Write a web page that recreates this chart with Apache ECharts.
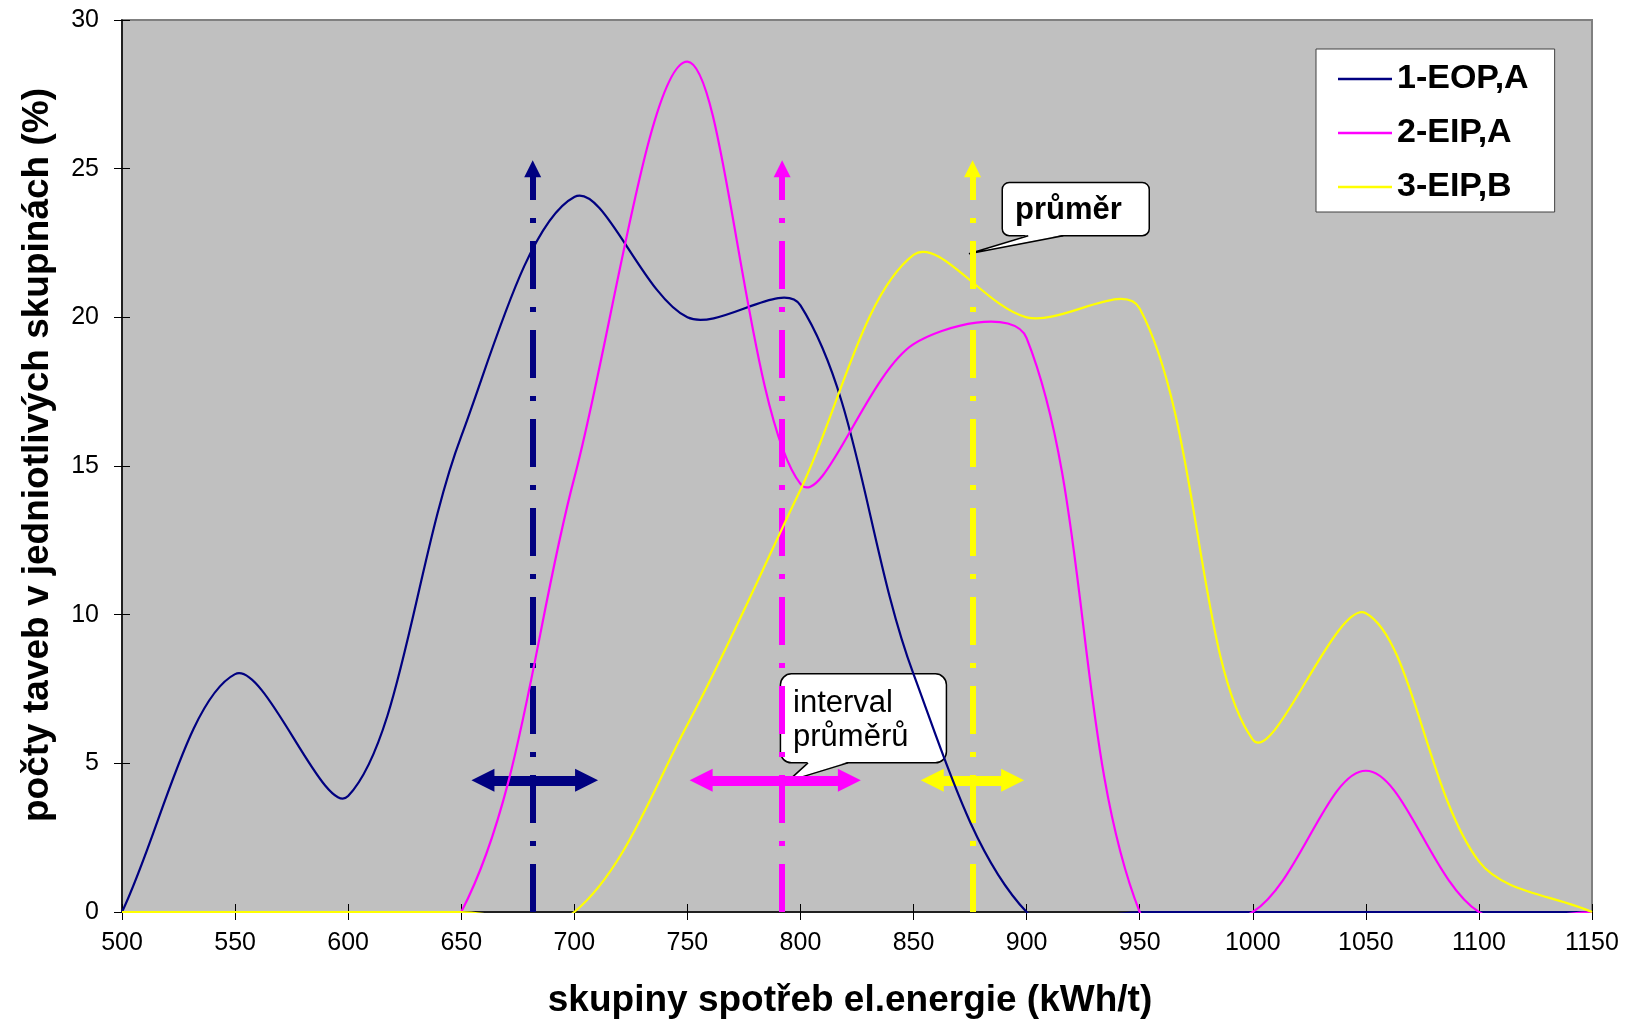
<!DOCTYPE html>
<html>
<head>
<meta charset="utf-8">
<title>skupiny spotřeb el.energie</title>
<script src="https://cdn.jsdelivr.net/npm/echarts@6/dist/echarts.min.js"></script>
<style>
  html, body { margin: 0; padding: 0; background: #fff; }
  #chart { width: 1626px; height: 1024px; }
</style>
</head>
<body>
<div id="chart"></div>
<script>
// skupiny spotřeb el.energie (kWh/t)
var groups = [500, 550, 600, 650, 700, 750, 800, 850, 900, 950, 1000, 1050, 1100, 1150]
// počty taveb (%)
var eopA = [0, 8.0, 3.9, 16.0, 24.05, 20.0, 20.4, 8.0, 0, 0, 0, 0, 0, 0]
var eipA = [0, 0, 0, 0, 14.6, 28.6, 14.4, 19.1, 19.3, 0, 0, 4.75, 0, 0]
var eipB = [0, 0, 0, 0, 0, 6.3, 14.2, 22.1, 20.0, 20.3, 5.8, 10.05, 1.7, 0]
var seriesNames = ['1-EOP,A', '2-EIP,A', '3-EIP,B']
var colors = ['#000080', '#FF00FF', '#FFFF00']

// průměr (svislé šipky) a interval průměrů (vodorovné šipky)
var means = [681.6, 791.9, 876.1]
var meanTop = 25
var intervalLow = [654.5, 751, 853.2]
var intervalHigh = [710.5, 826.7, 898.9]
var intervalLevel = 4.43

// kam ukazují popisky
var prumerTip = [874.5, 22.14]
var intervalTip = [794.5, 4.40]

var font = '"Liberation Sans", Arial, Helvetica, sans-serif'
var chart = echarts.init(document.getElementById('chart'))

// vyhlazená čára jako v Excelu (bez omezení překmitu)
var SMOOTH = 1 / 3
function ctrl(prev, p, next, after) {
  var vx = next[0] - prev[0], vy = next[1] - prev[1]
  var l0 = Math.hypot(p[0] - prev[0], p[1] - prev[1])
  var l1 = Math.hypot(next[0] - p[0], next[1] - p[1])
  if (l0 + l1 === 0) return p
  var r = l1 / (l0 + l1)
  if (after) return [p[0] + vx * SMOOTH * r, p[1] + vy * SMOOTH * r]
  return [p[0] - vx * SMOOTH * (1 - r), p[1] - vy * SMOOTH * (1 - r)]
}
function smoothPath(pts) {
  var d = 'M' + pts[0][0] + ' ' + pts[0][1]
  for (var i = 0; i < pts.length - 1; i++) {
    var p0 = pts[i - 1] || pts[i], p1 = pts[i], p2 = pts[i + 1], p3 = pts[i + 2] || pts[i + 1]
    var c1 = ctrl(p0, p1, p2, true)
    var c2 = ctrl(p1, p2, p3, false)
    d += ' C' + c1[0] + ' ' + c1[1] + ' ' + c2[0] + ' ' + c2[1] + ' ' + p2[0] + ' ' + p2[1]
  }
  return d
}

var series = []
// šipky průměrů a intervalů pod křivkami
var headUnits = 11.5 * 650 / 1470
colors.forEach(function (c, i) {
  series.push({
    type: 'line', data: [], z: 1, silent: true,
    markLine: {
      silent: true, z: 1, animation: false,
      symbol: ['none', 'triangle'], symbolSize: [17, 17],
      label: { show: false },
      lineStyle: { color: c, width: 6, type: [48, 18, 5, 18], opacity: 1 },
      emphasis: { disabled: true },
      data: [[{ coord: [means[i], 0] }, { coord: [means[i], meanTop] }]]
    }
  })
  series.push({
    type: 'line', data: [], z: 1, silent: true,
    markLine: {
      silent: true, z: 1, animation: false,
      symbol: ['triangle', 'triangle'], symbolSize: [23, 23],
      label: { show: false },
      lineStyle: { color: c, width: 10, type: 'solid', opacity: 1 },
      emphasis: { disabled: true },
      data: [[{ coord: [intervalLow[i] + headUnits, intervalLevel] },
              { coord: [intervalHigh[i] - headUnits, intervalLevel] }]]
    }
  })
})

;[eopA, eipA, eipB].forEach(function (vals, i) {
  var color = colors[i]
  series.push({
    name: seriesNames[i],
    type: 'custom',
    z: 3,
    silent: true,
    itemStyle: { color: color },
    encode: { x: 0, y: 1 },
    data: groups.map(function (g, j) { return [g, vals[j]] }),
    renderItem: function (params, api) {
      if (params.dataIndex !== 0) return
      var pts = groups.map(function (g, j) { return api.coord([g, vals[j]]) })
      var cs = params.coordSys
      return {
        type: 'path',
        shape: { pathData: smoothPath(pts) },
        style: { fill: 'none', stroke: color, lineWidth: 2.2 },
        clipPath: { type: 'rect', shape: { x: cs.x - 2, y: cs.y - 2, width: cs.width + 4, height: cs.height + 3 } }
      }
    }
  })
})

var option = {
  animation: false,
  backgroundColor: '#fff',
  textStyle: { fontFamily: font },
  grid: {
    left: 122, right: 34, top: 20, bottom: 112,
    show: true, backgroundColor: '#C0C0C0', borderColor: '#808080', borderWidth: 2,
    outerBoundsMode: 'none'
  },
  legend: {
    data: seriesNames.map(function (n) { return { name: n, icon: 'rect' } }),
    orient: 'vertical',
    left: 1316, top: 49,
    padding: [13, 26, 8, 22],
    backgroundColor: '#fff', borderColor: '#404040', borderWidth: 1,
    itemWidth: 54, itemHeight: 2.5, itemGap: 20,
    textStyle: { fontFamily: font, fontSize: 34, fontWeight: 'bold', color: '#000', lineHeight: 34 }
  },
  xAxis: [{
    type: 'value', min: 500, max: 1150, interval: 50,
    name: 'skupiny spotřeb el.energie (kWh/t)',
    nameLocation: 'middle', nameGap: 70,
    nameTextStyle: { fontFamily: font, fontSize: 37, fontWeight: 'bold', color: '#000', padding: [0, 14, 0, 0] },
    axisLine: { lineStyle: { color: '#000', width: 1.5 } },
    axisTick: { length: 8, lineStyle: { color: '#000' } },
    axisLabel: { fontFamily: font, fontSize: 25, color: '#000', margin: 19, formatter: function (v) { return String(v) } },
    splitLine: { show: false }
  }, {
    type: 'value', min: 500, max: 1150, interval: 50, position: 'bottom',
    axisLine: { show: false },
    axisTick: { inside: true, length: 8, lineStyle: { color: '#000' } },
    axisLabel: { show: false },
    splitLine: { show: false }
  }],
  yAxis: [{
    type: 'value', min: 0, max: 30, interval: 5,
    name: 'počty taveb v jedniotlivých skupinách (%)',
    nameLocation: 'middle', nameRotate: 90, nameGap: 66,
    nameTextStyle: { fontFamily: font, fontSize: 37, fontWeight: 'bold', color: '#000', padding: [0, 0, 0, 22] },
    axisLine: { show: true, lineStyle: { color: '#000', width: 1.5 } },
    axisTick: { show: true, length: 8, lineStyle: { color: '#000' } },
    axisLabel: { fontFamily: font, fontSize: 25, color: '#000', margin: 23 },
    splitLine: { show: false }
  }, {
    type: 'value', min: 0, max: 30, interval: 5, position: 'left',
    axisLine: { show: false },
    axisTick: { show: true, inside: true, length: 8, lineStyle: { color: '#000' } },
    axisLabel: { show: false },
    splitLine: { show: false }
  }],
  series: series
}

chart.setOption(option)

// popisky (bubliny)
function bubble(tip, dx, dy, w, h, r, tail0, tail1, texts) {
  var p = chart.convertToPixel({ gridIndex: 0 }, tip)
  var bx = p[0] + dx, by = p[1] + dy
  var children = [
    { type: 'rect', shape: { x: bx, y: by, width: w, height: h, r: r },
      style: { fill: '#fff', stroke: '#000', lineWidth: 1.5 } },
    { type: 'polygon', shape: { points: [[bx + tail0, by + h - 1], [bx + tail1, by + h - 1], [p[0], p[1]]] },
      style: { fill: '#fff' } },
    { type: 'polyline', shape: { points: [[bx + tail0, by + h], [p[0], p[1]], [bx + tail1, by + h]] },
      style: { stroke: '#000', lineWidth: 1.5, fill: null } }
  ]
  texts.forEach(function (t) {
    children.push({ type: 'text', style: {
      text: t.text, x: bx + t.x, y: by + t.y, verticalAlign: 'middle',
      font: t.font, fill: '#000'
    } })
  })
  return { type: 'group', z: 100, silent: true, children: children }
}

chart.setOption({
  graphic: [
    bubble(prumerTip, 33.3, -71.3, 147, 53.3, 7, 26, 61, [
      { text: 'průměr', x: 12.7, y: 28.3, font: 'bold 31px ' + font }
    ]),
    bubble(intervalTip, -7.6, -107.3, 166, 89, 11, 27.6, 67.6, [
      { text: 'interval', x: 12.6, y: 29.3, font: '31px ' + font },
      { text: 'průměrů', x: 12.6, y: 63.8, font: '31px ' + font }
    ])
  ]
})
</script>
</body>
</html>
